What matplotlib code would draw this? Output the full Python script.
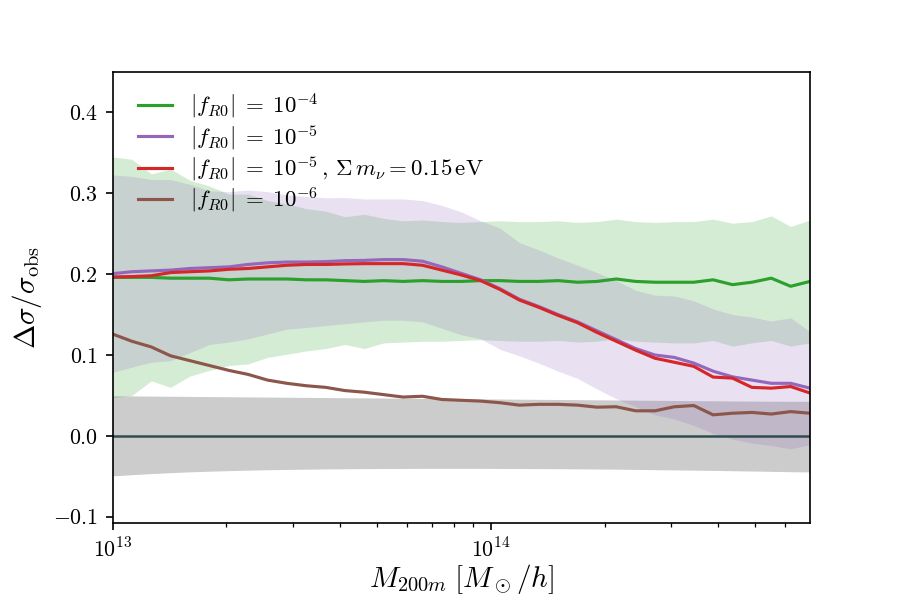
import numpy as np
import matplotlib
matplotlib.use('Agg')
import matplotlib.pyplot as plt

plt.rcParams['mathtext.fontset'] = 'cm'
plt.rcParams['font.family'] = 'serif'
plt.rcParams['font.serif'] = ['cmr10']
plt.rcParams['axes.formatter.use_mathtext'] = True

# halo mass bins (log10 M200m)
logM = np.linspace(13.0, 14.844, 37)
M = 10**logM

# mean relative difference of the velocity dispersion
fr4 = [0.196, 0.196, 0.196, 0.195, 0.195, 0.195, 0.193, 0.194, 0.194, 0.194,
       0.193, 0.193, 0.192, 0.191, 0.192, 0.191, 0.192, 0.191, 0.191, 0.192,
       0.192, 0.191, 0.191, 0.192, 0.190, 0.191, 0.194, 0.191, 0.190, 0.190,
       0.190, 0.193, 0.187, 0.190, 0.195, 0.185, 0.191]
fr5 = [0.2006, 0.203, 0.204, 0.205, 0.207, 0.208, 0.209, 0.212, 0.214, 0.215,
       0.215, 0.2155, 0.2167, 0.217, 0.218, 0.218, 0.216, 0.209, 0.201, 0.193,
       0.182, 0.169, 0.160, 0.150, 0.141, 0.130, 0.119, 0.108, 0.100, 0.097,
       0.090, 0.080, 0.073, 0.069, 0.065, 0.065, 0.059]
fr5_nu = [0.1965, 0.197, 0.198, 0.202, 0.203, 0.204, 0.206, 0.207, 0.209, 0.211,
          0.212, 0.212, 0.2126, 0.213, 0.213, 0.213, 0.211, 0.205, 0.199, 0.192,
          0.181, 0.168, 0.159, 0.149, 0.140, 0.128, 0.117, 0.106, 0.096, 0.091,
          0.086, 0.0727, 0.0714, 0.060, 0.059, 0.061, 0.053]
fr6 = [0.126, 0.117, 0.110, 0.099, 0.093, 0.087, 0.081, 0.076, 0.069, 0.065,
       0.062, 0.060, 0.056, 0.054, 0.051, 0.048, 0.049, 0.045, 0.044, 0.043,
       0.041, 0.038, 0.039, 0.039, 0.038, 0.0355, 0.036, 0.031, 0.031, 0.036,
       0.0375, 0.026, 0.028, 0.029, 0.027, 0.030, 0.028]

# 1-sigma scatter
err4 = [0.149, 0.146, 0.128, 0.135, 0.121, 0.114, 0.106, 0.105, 0.097, 0.093,
        0.088, 0.085, 0.079, 0.083, 0.077, 0.075, 0.075, 0.074, 0.073, 0.073,
        0.074, 0.074, 0.074, 0.074, 0.074, 0.074, 0.074, 0.074, 0.074, 0.075,
        0.075, 0.075, 0.076, 0.075, 0.077, 0.074, 0.076]
err5 = [0.122, 0.118, 0.113, 0.112, 0.104, 0.095, 0.093, 0.092, 0.088, 0.083,
        0.081, 0.079, 0.078, 0.076, 0.075, 0.075, 0.075, 0.076, 0.076, 0.073,
        0.075, 0.070, 0.070, 0.070, 0.070, 0.072, 0.073, 0.072, 0.074, 0.076,
        0.077, 0.077, 0.077, 0.078, 0.077, 0.081, 0.070]

# observational uncertainty band around zero
obs_hi = [0.0495, 0.0494, 0.0492, 0.0490, 0.0488, 0.0486, 0.0484, 0.0482, 0.0480, 0.0478,
          0.0476, 0.0474, 0.0472, 0.0470, 0.0468, 0.0466, 0.0464, 0.0462, 0.0460, 0.0458,
          0.0456, 0.0454, 0.0452, 0.0450, 0.0448, 0.0446, 0.0444, 0.0442, 0.0440, 0.0438,
          0.0436, 0.0434, 0.0432, 0.0430, 0.0429, 0.0428, 0.0427]
obs_lo = [-0.0495, -0.0480, -0.0467, -0.0455, -0.0445, -0.0437, -0.0430, -0.0424, -0.0419, -0.0415,
          -0.0412, -0.0409, -0.0407, -0.0405, -0.0404, -0.0403, -0.0402, -0.0402, -0.0402, -0.0402,
          -0.0403, -0.0404, -0.0405, -0.0406, -0.0408, -0.0410, -0.0412, -0.0415, -0.0418, -0.0421,
          -0.0424, -0.0427, -0.0431, -0.0435, -0.0439, -0.0443, -0.0446]

fr4, fr5, fr5_nu, fr6 = map(np.array, (fr4, fr5, fr5_nu, fr6))
err4, err5 = np.array(err4), np.array(err5)

fig, ax = plt.subplots(figsize=(6, 4), dpi=150)
fig.subplots_adjust(left=0.125, right=0.9, top=0.88, bottom=0.128)

ax.fill_between(M, obs_lo, obs_hi, color='k', alpha=0.2, lw=0)
ax.axhline(0, color='darkslategray', lw=1.2)

ax.fill_between(M, fr4 - err4, fr4 + err4, color='C2', alpha=0.2, lw=0)
ax.fill_between(M, fr5 - err5, fr5 + err5, color='C4', alpha=0.2, lw=0)

ax.plot(M, fr4, color='C2', lw=1.5, label=r'$|f_{R0}|\;=\;10^{-4}$')
ax.plot(M, fr5, color='C4', lw=1.5, label=r'$|f_{R0}|\;=\;10^{-5}$')
ax.plot(M, fr5_nu, color='C3', lw=1.5,
        label=r'$|f_{R0}|\;=\;10^{-5}\,,\,\Sigma\,m_\nu=0.15\,\mathrm{eV}$')
ax.plot(M, fr6, color='C5', lw=1.5, label=r'$|f_{R0}|\;=\;10^{-6}$')

ax.set_xscale('log')
ax.set_xlim(M[0], M[-1])
ax.set_ylim(-0.108, 0.45)
ax.set_yticks([-0.1, 0.0, 0.1, 0.2, 0.3, 0.4])
ax.tick_params(labelsize=10.5)
ax.set_xlabel(r'$M_{200m}\;[M_\odot/h]$', fontsize=14, labelpad=0)
ax.set_ylabel(r'$\Delta\sigma/\sigma_{\rm obs}$', fontsize=14)
ax.legend(loc='upper left', bbox_to_anchor=(0, 1.013), frameon=False, fontsize=11,
          handlelength=1.5, borderaxespad=0.7, labelspacing=0.1)

plt.savefig('out.png', dpi=150)
plt.close()
